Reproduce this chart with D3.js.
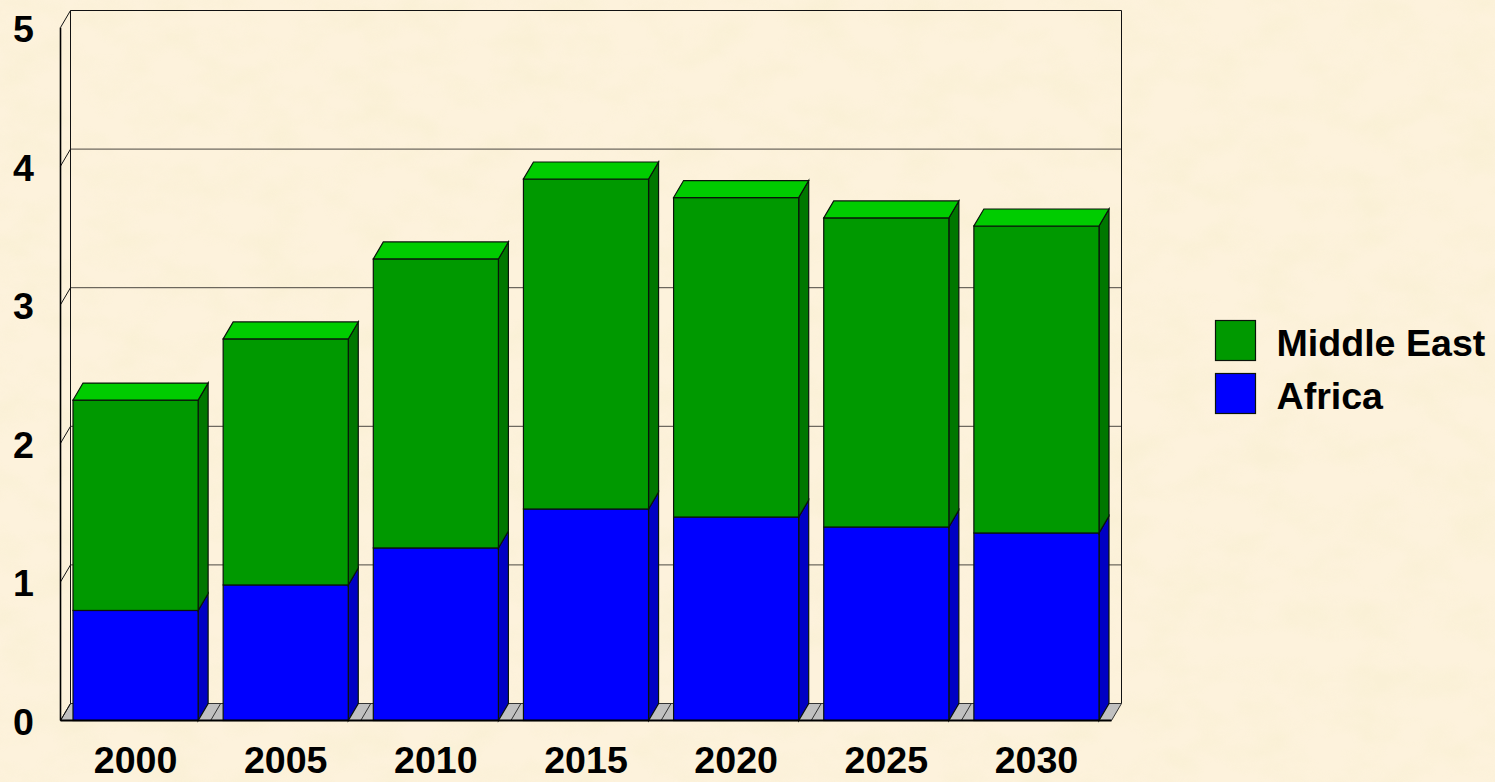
<!DOCTYPE html>
<html>
<head>
<meta charset="utf-8">
<script src="https://cdn.jsdelivr.net/npm/d3@7"></script>
<style>
html, body { margin: 0; padding: 0; background: #fcf0d9; }
svg { display: block; }
text { font-family: "Liberation Sans", Arial, sans-serif; font-weight: bold; font-size: 37.6px; fill: #000; }
.axis .domain, .axis line { display: none; }
</style>
</head>
<body>
<svg width="1495" height="782"></svg>
<script>
var years = ["2000", "2005", "2010", "2015", "2020", "2025", "2030"];
var africa = [0.794, 0.978, 1.245, 1.526, 1.468, 1.396, 1.353];
var middleEast = [1.518, 1.775, 2.085, 2.381, 2.305, 2.230, 2.215];
var yTicks = [0, 1, 2, 3, 4, 5];
var legendNames = ["Middle East", "Africa"];

var data = years.map((y, i) => ({year: y, africa: africa[i], middleEast: middleEast[i]}));

var svg = d3.select("svg");
var depthX = 10, depthY = -17;

var x = d3.scaleBand()
    .domain(years)
    .range([60.5, 1111.5])
    .paddingInner(0.1667)
    .paddingOuter(0.0833);

var y = d3.scaleLinear()
    .domain([0, 5])
    .range([720.5, 27.5]);

// parchment background
var defs = svg.append("defs");
var paper = defs.append("filter").attr("id", "paper")
    .attr("x", 0).attr("y", 0).attr("width", "100%").attr("height", "100%");
paper.append("feTurbulence")
    .attr("type", "fractalNoise")
    .attr("baseFrequency", "0.02 0.03")
    .attr("numOctaves", 3)
    .attr("seed", 7);
paper.append("feColorMatrix")
    .attr("type", "matrix")
    .attr("values", "0 0 0 0 0.95  0 0 0 0 0.87  0 0 0 0 0.66  2.4 0 0 0 -0.95");

svg.append("rect").attr("width", 1495).attr("height", 782).attr("fill", "#fdf2dc");
svg.append("rect").attr("width", 1495).attr("height", 782).attr("filter", "url(#paper)").attr("opacity", 0.75);

var pts = a => a.map(p => p.join(",")).join(" ");
var x0 = x.range()[0], x1 = x.range()[1];
var step = x.step();

// floor
svg.append("polygon")
    .attr("points", pts([[x0, y(0)], [x0 + depthX, y(0) + depthY], [x1 + depthX, y(0) + depthY], [x1, y(0)]]))
    .attr("fill", "#c0c0c0").attr("stroke", "#333").attr("stroke-width", 1);

svg.selectAll(".floorline")
    .data(d3.range(1, years.length))
    .join("line")
    .attr("class", "floorline")
    .attr("x1", i => x0 + i * step).attr("y1", y(0))
    .attr("x2", i => x0 + i * step + depthX).attr("y2", y(0) + depthY)
    .attr("stroke", "#333").attr("stroke-width", 1);

// gridlines on the back wall and the left wall
var grid = svg.append("g");
grid.selectAll(".back")
    .data(yTicks.slice(1, 5))
    .join("line")
    .attr("class", "back")
    .attr("x1", x0 + depthX).attr("x2", x1 + depthX)
    .attr("y1", d => y(d) + depthY).attr("y2", d => y(d) + depthY)
    .attr("stroke", "#4a4740").attr("stroke-width", 1);

grid.selectAll(".side")
    .data(yTicks)
    .join("line")
    .attr("class", "side")
    .attr("x1", x0).attr("x2", x0 + depthX)
    .attr("y1", d => y(d)).attr("y2", d => y(d) + depthY)
    .attr("stroke", "#111").attr("stroke-width", 1);

// walls outline
svg.append("path")
    .attr("d", "M" + (x0 + depthX) + "," + (y(0) + depthY) + "V" + (y(5) + depthY) + "H" + (x1 + depthX) + "V" + (y(0) + depthY))
    .attr("fill", "none").attr("stroke", "#111").attr("stroke-width", 1);

svg.append("line")
    .attr("x1", x0).attr("x2", x0).attr("y1", y(5)).attr("y2", y(0))
    .attr("stroke", "#000").attr("stroke-width", 1.6);

// bars, each segment has a front and a side face
function segment(g, lo, hi, front, side) {
    var b = x.bandwidth();
    g.append("polygon")
        .attr("points", d => {
            var r = x(d.year) + b;
            return pts([[r, y(lo(d))], [r, y(hi(d))], [r + depthX, y(hi(d)) + depthY], [r + depthX, y(lo(d)) + depthY]]);
        })
        .attr("fill", side).attr("stroke", "#0a140a").attr("stroke-width", 1.2);
    g.append("rect")
        .attr("x", d => x(d.year))
        .attr("width", b)
        .attr("y", d => y(hi(d)))
        .attr("height", d => y(lo(d)) - y(hi(d)))
        .attr("fill", front).attr("stroke", "#0a140a").attr("stroke-width", 1.2);
}

var bars = svg.selectAll(".bar")
    .data(data)
    .join("g")
    .attr("class", "bar");

segment(bars, d => 0, d => d.africa, "#0000ff", "#0000c4");
segment(bars, d => d.africa, d => d.africa + d.middleEast, "#009900", "#007700");

bars.append("polygon")
    .attr("points", d => {
        var l = x(d.year), r = l + x.bandwidth(), t = y(d.africa + d.middleEast);
        return pts([[l, t], [r, t], [r + depthX, t + depthY], [l + depthX, t + depthY]]);
    })
    .attr("fill", "#00cc00").attr("stroke", "#0a140a").attr("stroke-width", 1.2);

// base line drawn over the bars
svg.append("line")
    .attr("x1", x0).attr("x2", x1).attr("y1", y(0)).attr("y2", y(0))
    .attr("stroke", "#000").attr("stroke-width", 1.8);

// axes
svg.append("g")
    .attr("class", "axis axis--y")
    .attr("transform", "translate(34,2)")
    .call(d3.axisLeft(y).tickValues(yTicks).tickFormat(d3.format("d")).tickSize(0).tickPadding(0));

svg.append("g")
    .attr("class", "axis axis--x")
    .attr("transform", "translate(0,746)")
    .call(d3.axisBottom(x).tickSize(0).tickPadding(0));

// legend
var colors = d3.scaleOrdinal().domain(legendNames).range(["#009900", "#0000ff"]);
var legendY = d3.scalePoint().domain(legendNames).range([320.5, 373.5]);

var legend = svg.selectAll(".legend")
    .data(legendNames)
    .join("g")
    .attr("class", "legend")
    .attr("transform", d => "translate(1215.5," + legendY(d) + ")");

legend.append("rect")
    .attr("width", 40).attr("height", 40)
    .attr("fill", d => colors(d))
    .attr("stroke", "#0a140a").attr("stroke-width", 1.2);

legend.append("text")
    .attr("x", 61)
    .attr("y", 35.5)
    .text(d => d);
</script>
</body>
</html>
